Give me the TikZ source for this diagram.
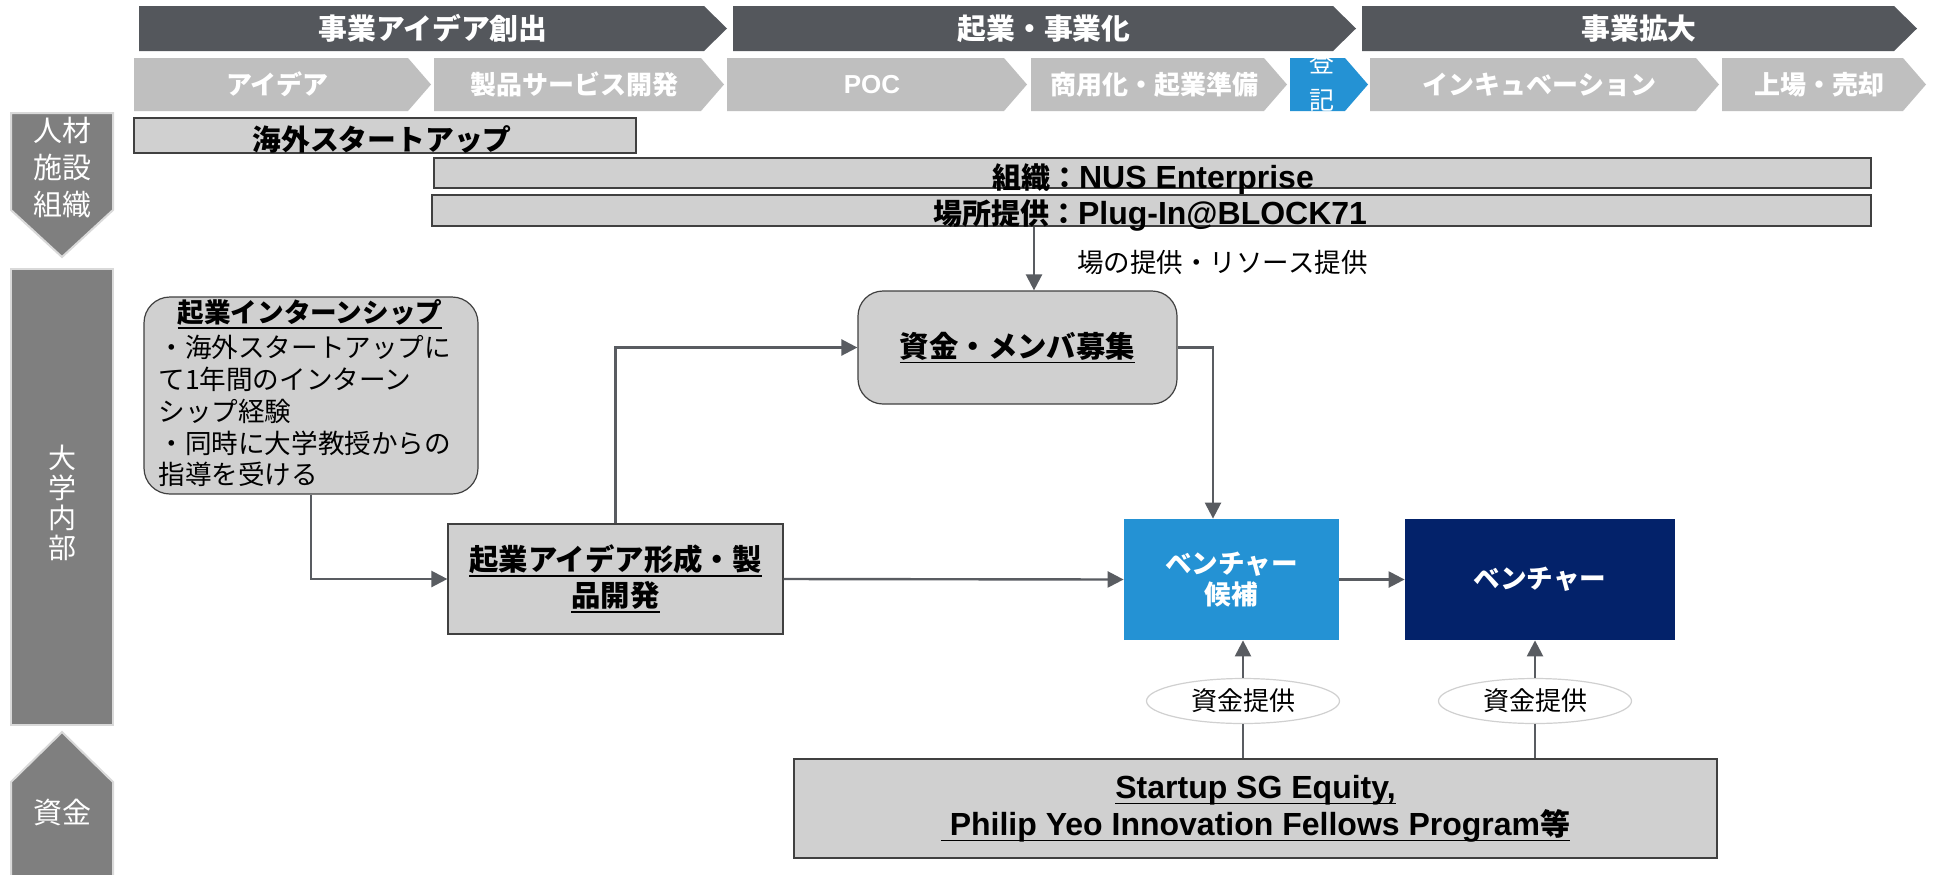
\documentclass[tikz,border=0pt]{standalone}
\usepackage{fontspec}
\setmainfont{Liberation Sans}
\newfontfamily\jp{Noto Sans CJK JP}
\usetikzlibrary{arrows.meta,shapes.geometric}
\definecolor{darkchev}{HTML}{54575C}
\definecolor{lightchev}{HTML}{BFBFBF}
\definecolor{blueA}{HTML}{2492D4}
\definecolor{navy}{HTML}{03226A}
\definecolor{boxfill}{HTML}{D0D0D0}
\definecolor{boxline}{HTML}{404040}
\definecolor{leftc}{HTML}{7F7F7F}
\definecolor{leftline}{HTML}{D9D9D9}
\definecolor{arrowc}{HTML}{595C61}
\definecolor{ellline}{HTML}{D0D0D0}
\newcommand\fsz[2]{\fontsize{#1}{#2}\selectfont}
\newcommand\ulx[1]{\setbox0\hbox{#1}\rlap{\rule[-3pt]{\wd0}{0.8pt}}\box0}
\newcommand\hplate[5]{\fill[#1] (#2,#4) -- ({#3-23},#4) -- (#3,{(#4+#5)/2}) -- ({#3-23},#5) -- (#2,#5) -- cycle;}
\begin{document}
\begin{tikzpicture}[x=0.5pt,y=-0.5pt,
  toptext/.style={text=white,font=\jp\bfseries\fsz{14.4}{17},inner sep=0pt},
  subtext/.style={text=white,font=\jp\bfseries\fsz{13}{16},inner sep=0pt},
  lshape/.style={fill=leftc,draw=leftline,line width=1pt},
  ltext/.style={text=white,font=\jp\fsz{14.5}{18.5},align=center,inner sep=0pt},
  barbox/.style={draw=boxline,fill=boxfill,line width=0.6pt,inner sep=0pt},
  gbox/.style={draw=boxline,fill=boxfill,line width=0.6pt,inner sep=0pt,align=center},
  rbox/.style={gbox,rounded corners=13pt},
  connline/.style={draw=arrowc,line width=1.2pt},
  arrline/.style={connline,-{Triangle[length=8pt,width=8pt]}},
  ellnode/.style={ellipse,draw=ellline,fill=white,line width=0.6pt,inner sep=0pt,minimum width=96.5pt,minimum height=22.5pt,font=\jp\fsz{13}{15}},
]
\clip (0,0) rectangle (1933,874);
\fill[white] (0,0) rectangle (1933,874);

% ---- top phase row
\hplate{darkchev}{139}{727}{6}{51}
\hplate{darkchev}{733}{1356}{6}{51}
\hplate{darkchev}{1362}{1917}{6}{51}
\node[toptext] (ph1) at (433,28.5) {事業アイデア創出};
\node[toptext] (ph2) at (1044,28.5) {起業・事業化};
\node[toptext] (ph3) at (1639,28.5) {事業拡大};

% ---- sub phase row
\hplate{lightchev}{134}{431}{58}{111}
\hplate{lightchev}{434}{724}{58}{111}
\hplate{lightchev}{727}{1027}{58}{111}
\hplate{lightchev}{1031}{1287}{58}{111}
\hplate{blueA}{1290}{1368}{58}{111}
\hplate{lightchev}{1370}{1719}{58}{111}
\hplate{lightchev}{1722}{1926}{58}{111}
\node[subtext] (s1) at (277.5,84.5) {アイデア};
\node[subtext] (s2) at (574,84.5) {製品サービス開発};
\node[subtext,font=\bfseries\fsz{13}{16}] (s3) at (872,84.5) {POC};
\node[subtext] (s4) at (1154,84.5) {商用化・起業準備};
\node[subtext] (s6) at (1539.5,84.5) {インキュベーション};
\node[subtext] (s7) at (1819,84.5) {上場・売却};
\begin{scope}
\clip (1290,58) -- (1345,58) -- (1368,84.5) -- (1345,111) -- (1290,111) -- cycle;
\node[text=white,font=\jp\fsz{12.5}{18.5},align=center,inner sep=0pt] (s5) at (1322,81) {登\\記};
\end{scope}

% ---- left column
\draw[lshape] (11,113) -- (113,113) -- (113,210) -- (62,257) -- (11,210) -- cycle;
\node[ltext] (lc1) at (62,168) {人材\\施設\\組織};
\node[lshape,minimum width=51pt,minimum height=228pt,inner sep=0pt] (lc2) at (62,497) {};
\node[text=white,font=\jp\fsz{14}{15},align=center,inner sep=0pt] (lc2T) at (62,503) {大\\学\\内\\部};
\draw[lshape] (11,880) -- (11,782) -- (62,732) -- (113,782) -- (113,880) -- cycle;
\node[ltext] (lc3) at (62,812) {資金};

% ---- bars
\node[barbox,minimum width=251pt,minimum height=17.5pt] (kaigai) at (385,135.5) {};
\node[font=\jp\bfseries\fsz{14.4}{17},inner sep=0pt] (kaigaiT) at (382,140) {海外スタートアップ};
\node[barbox,minimum width=718.5pt,minimum height=15pt] (org) at (1152.5,173) {};
\node[anchor=base,inner sep=0pt,font=\bfseries\fsz{16}{18}] (orgT) at (1153,188) {{\jp\fsz{14.5}{17}組織：}NUS Enterprise};
\node[barbox,minimum width=719.5pt,minimum height=15.5pt] (plc) at (1151.5,210.5) {};
\node[anchor=base,inner sep=0pt,font=\bfseries\fsz{16}{18}] (plcT) at (1150,224) {{\jp\fsz{14.5}{17}場所提供：}Plug-In@BLOCK71};

% ---- main boxes
\node[rbox,minimum width=167pt,minimum height=98.5pt] (intern) at (311,395.5) {};
\node[inner sep=0pt,font=\jp\bfseries\fsz{13.3}{16}] (internT) at (310,314) {\ulx{起業インターンシップ}};
\node[anchor=north west,inner sep=0pt,align=left,font=\jp\fsz{13.3}{15.9}] (internB) at (158,335) {・海外スタートアップに\\て1年間のインターン\\シップ経験\\・同時に大学教授からの\\指導を受ける};

\node[rbox,rounded corners=12.5pt,minimum width=159.5pt,minimum height=56.5pt,font=\jp\bfseries\fsz{14.7}{17}] (fundm) at (1017.5,347.5) {\ulx{資金・メンバ募集}};

\node[gbox,minimum width=167.5pt,minimum height=55pt,font=\jp\bfseries\fsz{14.7}{18}] (idea) at (615.5,579) {\ulx{起業アイデア形成・製}\\\ulx{品開発}};

\node[fill=blueA,inner sep=0pt,minimum width=107.5pt,minimum height=60.5pt,align=center,text=white,font=\jp\bfseries\fsz{13.3}{15.5}] (vc) at (1231.5,579.5) {ベンチャー\\候補};
\node[fill=navy,inner sep=0pt,minimum width=135pt,minimum height=60.5pt,text=white,font=\jp\bfseries\fsz{13.3}{15.5}] (ven) at (1540,579.5) {ベンチャー};

\node[gbox,minimum width=461.5pt,minimum height=49.5pt,font=\bfseries\fsz{16}{18.5}] (fund) at (1255.5,808.5) {\ulx{Startup SG Equity,}\\\ulx{\ Philip Yeo Innovation Fellows Program{\jp\fsz{15}{17}等}}};

\node[ellnode] (e1) at (1243,701) {資金提供};
\node[ellnode] (e2) at (1535,701) {資金提供};

% ---- connectors
\coordinate (pdx) at (1034,0);
\draw[arrline] (plc.south -| pdx) -- (pdx |- fundm.north);
\node[anchor=west,inner sep=0pt,font=\jp\fsz{13.25}{16}] (plcL) at (1077,262) {場の提供・リソース提供};

\draw[arrline] (intern.south) |- (idea.west);
\draw[arrline] (idea.north) |- (fundm.west);
\draw[arrline] (fundm.east) -| ([xshift=-9.25pt]vc.north);
\draw[arrline] (idea.east) -- (vc.west);
\draw[arrline] (vc.east) -- (ven.west);

\draw[connline] (e1.south |- fund.north) -- (e1.south);
\draw[arrline] (e1.north) -- (e1.north |- vc.south);
\draw[connline] (e2.south |- fund.north) -- (e2.south);
\draw[arrline] (e2.north) -- (e2.north |- ven.south);
\end{tikzpicture}
\end{document}
